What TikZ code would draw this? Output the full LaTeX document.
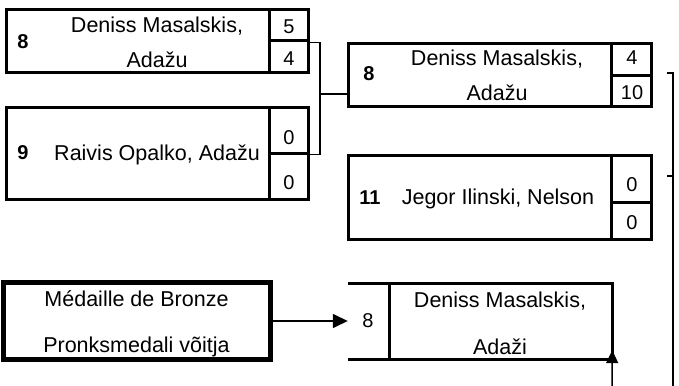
\documentclass[tikz,border=0pt]{standalone}
\usepackage{fontspec}
\setmainfont{Liberation Sans}
\usetikzlibrary{arrows.meta}
\begin{document}
\begin{tikzpicture}[x=1pt,y=-1pt,
  box/.style={draw, line width=3pt, inner sep=0pt, rectangle},
  cellarea/.style={inner sep=0pt, rectangle},
  nametext/.style={anchor=base, inner sep=0pt, font=\fontsize{21.5pt}{22pt}\selectfont},
  numtext/.style={anchor=base, inner sep=0pt, font=\fontsize{20pt}{22pt}\selectfont},
  seedtext/.style={anchor=base, inner sep=0pt, font=\fontsize{20pt}{22pt}\selectfont\bfseries},
  link/.style={line width=1.6pt},
  thinlink/.style={line width=1.3pt},
  finline/.style={line width=3pt},
  arr/.style={line width=1.5pt, -{Triangle[length=15pt,width=14pt]}},
  uparr/.style={line width=1.5pt, -{Triangle[length=13pt,width=12pt]}}]
\useasboundingbox (0,0) rectangle (679,385);
% box 1
\node[box, minimum width=302pt, minimum height=63pt] (b1) at (157,41.5) {};
\node[box, minimum width=38.5pt, minimum height=31pt] (b1s1) at (288.75,25.5) {};
\node[box, minimum width=38.5pt, minimum height=32pt] (b1s2) at (288.75,57) {};
\node[seedtext] (b1seed) at (23,49) {8};
\node[nametext] (b1n1) at (157,33) {Deniss Masalskis,};
\node[nametext] (b1n2) at (157,68) {Adažu};
\node[numtext] (b1a) at (289,34) {5};
\node[numtext] (b1b) at (289,66) {4};
% box 2
\node[box, minimum width=302pt, minimum height=91pt] (b2) at (157,153.5) {};
\node[box, minimum width=38.5pt, minimum height=45pt] (b2s1) at (288.75,130.5) {};
\node[box, minimum width=38.5pt, minimum height=46pt] (b2s2) at (288.75,176) {};
\node[seedtext] (b2seed) at (23,159) {9};
\node[nametext] (b2n) at (157,160) {Raivis Opalko, Adažu};
\node[numtext] (b2a) at (289,144) {0};
\node[numtext] (b2b) at (289,189) {0};
% box 3
\node[box, minimum width=303pt, minimum height=63pt] (b3) at (500,75) {};
\node[box, minimum width=40pt, minimum height=32.5pt] (b3s1) at (631.5,59.75) {};
\node[box, minimum width=40pt, minimum height=30.5pt] (b3s2) at (631.5,91.25) {};
\node[seedtext] (b3seed) at (369,81) {8};
\node[nametext] (b3n1) at (497,65.5) {Deniss Masalskis,};
\node[nametext] (b3n2) at (497,100.5) {Adažu};
\node[numtext] (b3a) at (632,64.5) {4};
\node[numtext] (b3b) at (632,99.5) {10};
% box 4
\node[box, minimum width=303pt, minimum height=84pt] (b4) at (500,197.5) {};
\node[box, minimum width=40pt, minimum height=46.5pt] (b4s1) at (631.5,178.75) {};
\node[box, minimum width=40pt, minimum height=37.5pt] (b4s2) at (631.5,220.75) {};
\node[seedtext] (b4seed) at (370,204) {11};
\node[nametext] (b4n) at (498,204.5) {Jegor Ilinski, Nelson};
\node[numtext] (b4a) at (632,191.5) {0};
\node[numtext] (b4b) at (632,229.5) {0};
% left bracket
\coordinate (j1) at (320,94);
\draw[link] (b1s1.south east) -| (j1) |- (b2s1.south east);
\draw[link] (j1) -- (j1 -| b3.west);
% right bracket
\coordinate (t1) at (667,73);
\coordinate (t2) at (667,176);
\coordinate (rb) at (673,386);
\draw[thinlink] (t1) -| (rb);
\draw[thinlink] (t2) -- (t2 -| rb);
% bronze box
\node[draw, line width=5pt, inner sep=0pt, minimum width=266.5pt, minimum height=77pt] (bz) at (136.75,321) {};
\node[nametext] (bz1) at (136.5,306) {Médaille de Bronze};
\node[nametext] (bz2) at (136.5,352) {Pronksmedali võitja};
% final box
\node[cellarea, minimum width=264pt, minimum height=75pt] (fin) at (480,321.5) {};
\coordinate (fd1) at (389,284);
\coordinate (fd2) at (389,359);
\draw[finline] (fin.north west) -- (fin.north east) -- (fin.south east) -- (fin.south west);
\draw[finline] (fd1) -- (fd2);
\node[numtext] (fseed) at (368,327) {8};
\node[nametext] (fn1) at (500,307) {Deniss Masalskis,};
\node[nametext] (fn2) at (500,354) {Adaži};
\draw[arr] (bz.east) -- (fin.west |- bz.east);
\coordinate (ub) at (612,386);
\draw[uparr, shorten >=-9pt] (ub) -- (fin.south east);
\end{tikzpicture}
\end{document}
